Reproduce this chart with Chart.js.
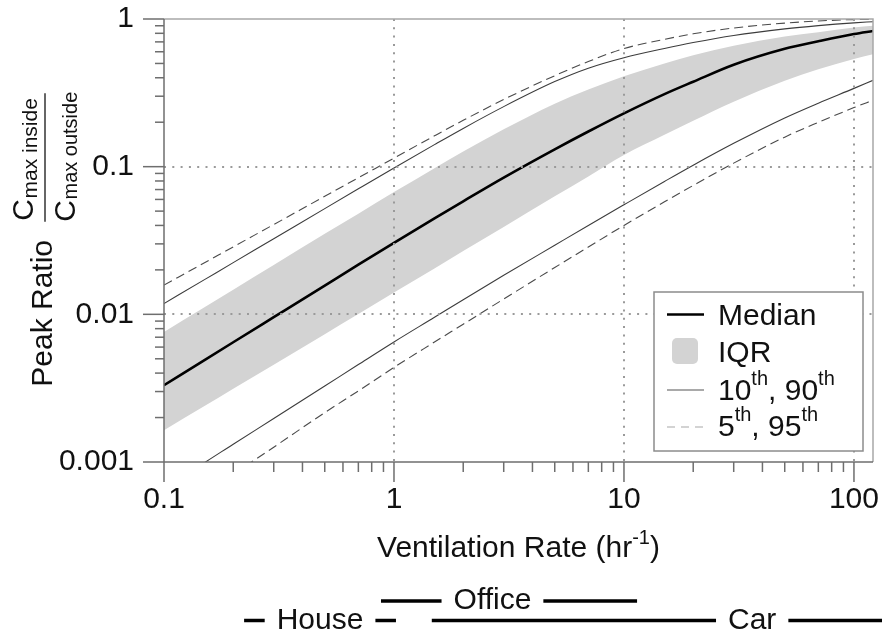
<!DOCTYPE html>
<html>
<head>
<meta charset="utf-8">
<script src="https://cdn.jsdelivr.net/npm/chart.js@4.4.1/dist/chart.umd.min.js"></script>
<style>
  html, body { margin: 0; padding: 0; background: #fff; }
  #wrap { width: 882px; height: 632px; }
</style>
</head>
<body>
<div id="wrap"><canvas id="grafico" width="882" height="632"></canvas></div>
<script>
// Ventilation rate (hr^-1) and percentiles of the peak ratio
const ventilacion = [0.1, 0.15, 0.2, 0.3, 0.5, 0.7, 1, 1.5, 2, 3, 5, 7, 10, 15, 20, 30, 50, 70, 100, 121];
const p50 = [0.00331, 0.0049, 0.00647, 0.00957, 0.01567, 0.02168, 0.0305, 0.0447, 0.0583, 0.0843, 0.131, 0.173, 0.2296, 0.31, 0.376, 0.49, 0.628, 0.706, 0.791, 0.83];
const p75 = [0.0076, 0.01117, 0.01469, 0.02158, 0.03508, 0.04808, 0.0673, 0.0977, 0.1265, 0.179, 0.2667, 0.3327, 0.409, 0.499, 0.5675, 0.659, 0.76, 0.813, 0.875, 0.9];
const p25 = [0.00164, 0.00239, 0.00313, 0.00456, 0.00734, 0.01005, 0.01403, 0.02046, 0.0268, 0.0391, 0.063, 0.0859, 0.12, 0.1644, 0.2046, 0.2754, 0.382, 0.456, 0.536, 0.577];
const p90 = [0.01183, 0.01718, 0.02239, 0.0325, 0.052, 0.0708, 0.098, 0.141, 0.1816, 0.255, 0.3767, 0.4645, 0.547, 0.632, 0.693, 0.774, 0.857, 0.902, 0.942, 0.959];
const p95 = [0.01578, 0.02234, 0.02864, 0.04055, 0.063, 0.0841, 0.1143, 0.1618, 0.206, 0.285, 0.413, 0.515, 0.631, 0.728, 0.794, 0.869, 0.938, 0.97, 0.991, 0.995];
const p10 = [0.00067, 0.00099, 0.00132, 0.00197, 0.00327, 0.00457, 0.0065, 0.00955, 0.01256, 0.01837, 0.02938, 0.04, 0.0552, 0.0794, 0.1023, 0.1439, 0.2138, 0.2692, 0.339, 0.3846];
const p05 = [0.000403, 0.000614, 0.000828, 0.00126, 0.00216, 0.00303, 0.00437, 0.00649, 0.00857, 0.0127, 0.02075, 0.02858, 0.04, 0.0578, 0.0746, 0.1057, 0.1585, 0.1995, 0.2512, 0.2818];

// axis ticks
const xMayores = [0.1, 1, 10, 100];
const yMayores = [0.001, 0.01, 0.1, 1];

// typical ventilation ranges shown under the axis
const rangoNombres = ["House", "Office", "Car"];
const rangoDesde = [0.223, 0.878, 1.46];
const rangoHasta = [1.02, 11.4, 900];
const rangoEtiqueta = [0.477, 2.68, 36.1];

const FUENTE = '"Liberation Sans", Arial, sans-serif';
const TEXTO = "#111";
const EJE = "#6e6e6e";

function ticksLog(mayores) {
  const lista = [];
  mayores.forEach((d, i) => {
    if (i === mayores.length - 1) { lista.push(d); return; }
    for (let m = 1; m <= 9; m++) lista.push(Number((m * d).toPrecision(3)));
  });
  return lista;
}

function esMayor(v) {
  const l = Math.log10(v);
  return Math.abs(l - Math.round(l)) < 1e-6;
}

function serie(valores) {
  return ventilacion.map((x, i) => ({ x, y: valores[i] }));
}

function linea(ctx, x1, y1, x2, y2) {
  ctx.beginPath();
  ctx.moveTo(x1, y1);
  ctx.lineTo(x2, y2);
  ctx.stroke();
}

// text with superscripts: partes = [[texto, esSup], ...]
function textoSup(ctx, partes, x, y, tam, tamSup, subida) {
  let cx = x;
  partes.forEach(([t, sup]) => {
    ctx.font = `${sup ? tamSup : tam}px ${FUENTE}`;
    ctx.fillText(t, cx, sup ? y - subida : y);
    cx += ctx.measureText(t).width;
  });
  return cx - x;
}

function anchoSup(ctx, partes, tam, tamSup) {
  let w = 0;
  partes.forEach(([t, sup]) => {
    ctx.font = `${sup ? tamSup : tam}px ${FUENTE}`;
    w += ctx.measureText(t).width;
  });
  return w;
}

const dibujoExtra = {
  id: "dibujoExtra",
  afterDraw(chart) {
    const { ctx, chartArea: area, scales: { x, y } } = chart;
    ctx.save();

    // top and right frame
    ctx.strokeStyle = "#a8a8a8";
    ctx.lineWidth = 1.5;
    ctx.beginPath();
    ctx.moveTo(area.left, area.top);
    ctx.lineTo(area.right, area.top);
    ctx.lineTo(area.right, area.bottom);
    ctx.stroke();

    // axis lines, major and minor ticks
    ctx.strokeStyle = EJE;
    ctx.lineWidth = 1.5;
    linea(ctx, area.left, area.top, area.left, area.bottom);
    linea(ctx, area.left, area.bottom, area.right, area.bottom);
    x.ticks.forEach((t) => {
      const px = x.getPixelForValue(t.value);
      linea(ctx, px, area.bottom, px, area.bottom + (esMayor(t.value) ? 20 : 10));
    });
    y.ticks.forEach((t) => {
      const py = y.getPixelForValue(t.value);
      linea(ctx, area.left, py, area.left - (esMayor(t.value) ? 21 : 9), py);
    });

    // legend
    const lx = area.right - 219, ly = area.bottom - 170, lw = 209, lh = 159;
    ctx.fillStyle = "#fff";
    ctx.fillRect(lx, ly, lw, lh);
    ctx.strokeStyle = "#8c8c8c";
    ctx.lineWidth = 1.5;
    ctx.strokeRect(lx, ly, lw, lh);

    const sx1 = lx + 13, sx2 = lx + 50, tx = lx + 64;
    ctx.fillStyle = TEXTO;
    ctx.textBaseline = "alphabetic";
    ctx.textAlign = "left";

    ctx.strokeStyle = "#000";
    ctx.lineWidth = 2.5;
    linea(ctx, sx1, ly + 22.5, sx2, ly + 22.5);
    textoSup(ctx, [["Median", false]], tx, ly + 33, 30, 20, 15);

    ctx.fillStyle = "#d3d3d3";
    ctx.beginPath();
    ctx.roundRect(lx + 18, ly + 46, 26, 26, 5);
    ctx.fill();
    ctx.fillStyle = TEXTO;
    textoSup(ctx, [["IQR", false]], tx, ly + 70, 30, 20, 15);

    ctx.strokeStyle = "#555";
    ctx.lineWidth = 1.2;
    linea(ctx, sx1, ly + 98, sx2, ly + 98);
    textoSup(ctx, [["10", false], ["th", true], [", 90", false], ["th", true]], tx, ly + 108, 30, 20, 15);

    ctx.strokeStyle = "#a8a8a8";
    ctx.setLineDash([8, 6]);
    linea(ctx, sx1, ly + 135, sx2, ly + 135);
    ctx.setLineDash([]);
    textoSup(ctx, [["5", false], ["th", true], [", 95", false], ["th", true]], tx, ly + 144, 30, 20, 15);

    // x axis title
    const partesX = [["Ventilation Rate (hr", false], ["-1", true], [")", false]];
    const wX = anchoSup(ctx, partesX, 30, 20);
    textoSup(ctx, partesX, (area.left + area.right) / 2 - wX / 2, 557, 30, 20, 13);

    // y axis title, rotated, with the concentration fraction
    ctx.save();
    ctx.translate(51.7, 386.7);
    ctx.rotate(-Math.PI / 2);
    ctx.font = `30px ${FUENTE}`;
    ctx.fillText("Peak Ratio", 0, 0);
    const wC = ctx.measureText("C").width;
    ctx.fillText("C", 166, -18.4);
    ctx.fillText("C", 165, 23.3);
    ctx.font = `21px ${FUENTE}`;
    ctx.fillText("max inside", 166 + wC + 0.5, -15);
    ctx.font = `20px ${FUENTE}`;
    ctx.fillText("max outside", 165 + wC + 0.5, 25);
    ctx.strokeStyle = "#333";
    ctx.lineWidth = 1.5;
    linea(ctx, 165, -6.7, 293.5, -6.7);
    ctx.restore();

    // ventilation ranges
    const filaY = { House: 620.5, Office: 601, Car: 620.5 };
    ctx.font = `30px ${FUENTE}`;
    ctx.textAlign = "center";
    ctx.strokeStyle = "#000";
    ctx.lineWidth = 3.5;
    rangoNombres.forEach((nombre, i) => {
      const yl = filaY[nombre];
      const cx = x.getPixelForValue(rangoEtiqueta[i]);
      const w = ctx.measureText(nombre).width;
      const a = x.getPixelForValue(rangoDesde[i]);
      const b = Math.min(x.getPixelForValue(rangoHasta[i]), chart.width);
      ctx.fillText(nombre, cx, yl + 8);
      linea(ctx, a, yl, cx - w / 2 - 12, yl);
      linea(ctx, cx + w / 2 + 12, yl, b, yl);
    });

    ctx.restore();
  }
};

Chart.defaults.font.family = FUENTE;
Chart.defaults.color = TEXTO;

const xTicks = ticksLog(xMayores);
const yTicks = ticksLog(yMayores);

function colorGrid(extremos) {
  return (c) => {
    const v = c.tick ? c.tick.value : null;
    if (v === null || !esMayor(v) || extremos.includes(v)) return "rgba(0,0,0,0)";
    return "#9a9a9a";
  };
}

new Chart(document.getElementById("grafico"), {
  type: "line",
  data: {
    datasets: [
      { label: "75th", data: serie(p75), borderWidth: 0, borderColor: "rgba(0,0,0,0)", backgroundColor: "#d3d3d3", fill: "+1", order: 10 },
      { label: "25th", data: serie(p25), borderWidth: 0, borderColor: "rgba(0,0,0,0)", backgroundColor: "#d3d3d3", fill: false, order: 10 },
      { label: "Median", data: serie(p50), borderColor: "#000", borderWidth: 2.6, fill: false, order: 1 },
      { label: "90th", data: serie(p90), borderColor: "#3c3c3c", borderWidth: 1.1, fill: false, order: 2 },
      { label: "10th", data: serie(p10), borderColor: "#3c3c3c", borderWidth: 1.1, fill: false, order: 2 },
      { label: "95th", data: serie(p95), borderColor: "#4a4a4a", borderWidth: 1.1, borderDash: [9, 5], fill: false, order: 3 },
      { label: "5th", data: serie(p05), borderColor: "#4a4a4a", borderWidth: 1.1, borderDash: [9, 5], fill: false, order: 3 }
    ]
  },
  options: {
    responsive: false,
    animation: false,
    devicePixelRatio: 1,
    events: [],
    layout: { padding: { left: 0, right: 9, top: 19, bottom: 0 } },
    elements: {
      point: { radius: 0 },
      line: { cubicInterpolationMode: "monotone" }
    },
    plugins: {
      legend: { display: false },
      tooltip: { enabled: false }
    },
    scales: {
      x: {
        type: "logarithmic",
        min: 0.1,
        max: 121,
        afterBuildTicks: (s) => { s.ticks = xTicks.map((v) => ({ value: v })); },
        afterFit: (s) => { s.height = 170; },
        ticks: {
          autoSkip: false,
          maxRotation: 0,
          padding: 0,
          font: { size: 30 },
          color: TEXTO,
          callback: (v) => (xMayores.includes(v) ? String(v) : "")
        },
        grid: {
          z: 1,
          lineWidth: 2,
          color: colorGrid([0.1]),
          drawTicks: true,
          tickLength: 20,
          tickColor: "rgba(0,0,0,0)"
        },
        border: { display: false, dash: [2, 6.3] }
      },
      y: {
        type: "logarithmic",
        min: 0.001,
        max: 1,
        afterBuildTicks: (s) => { s.ticks = yTicks.map((v) => ({ value: v })); },
        afterFit: (s) => { s.width = 164; },
        ticks: {
          autoSkip: false,
          padding: 0,
          font: { size: 30 },
          color: TEXTO,
          callback: (v) => (yMayores.includes(v) ? String(v) : "")
        },
        grid: {
          z: 1,
          lineWidth: 2,
          color: colorGrid([0.001, 1]),
          drawTicks: true,
          tickLength: 30,
          tickColor: "rgba(0,0,0,0)"
        },
        border: { display: false, dash: [2, 6.3] }
      }
    }
  },
  plugins: [dibujoExtra]
});
</script>
</body>
</html>
